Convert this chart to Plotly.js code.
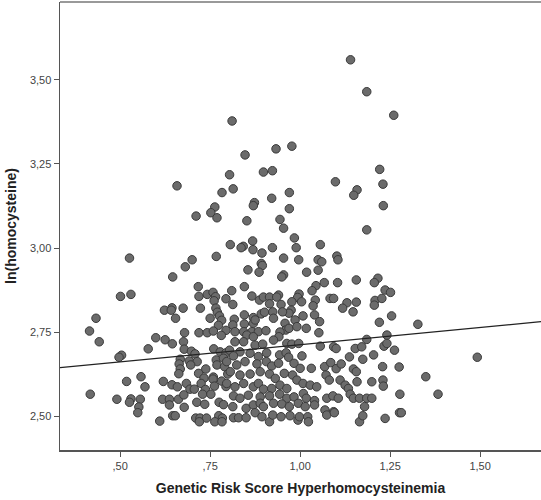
<!DOCTYPE html>
<html><head><meta charset="utf-8">
<script src="https://cdn.plot.ly/plotly-3.0.1.min.js"></script>
<style>html,body{margin:0;padding:0;background:#fff}#chart{width:541px;height:500px}</style>
</head><body><div id="chart"></div>
<script>
// Genetic risk score (x) and ln(homocysteine) (y)
const grs = [
0.933,0.977,0.847,0.804,0.898,0.923,0.658,0.783,0.814,0.970,0.873,0.870,0.921,0.970,0.763,0.752,0.769,0.711,0.852,0.944,
0.954,0.984,0.868,0.806,0.842,0.836,0.869,0.894,0.923,0.989,0.526,0.700,0.767,0.954,0.996,0.681,0.892,0.895,0.855,0.886,
0.954,0.949,0.646,
1.221,1.230,1.231,1.098,1.158,1.149,1.185,1.056,1.050,1.060,1.102,1.105,1.018,1.050,1.216,1.156,
1.140,1.185,1.260,0.811,
0.717,0.501,0.530,0.719,0.742,0.758,0.765,0.761,0.794,0.623,0.644,0.642,0.675,0.723,0.766,0.770,0.654,0.433,0.750,0.776,
0.782,0.773,0.415,0.679,0.719,0.742,0.759,0.794,0.781,0.442,0.599,0.625,0.645,0.676,0.678,0.578,0.698,0.708,0.760,0.778,
0.794,0.504,0.497,0.667,0.692,0.714,0.767,0.787,0.664,0.667,0.696,0.769,0.790,0.738,0.718,0.663,0.733,0.759,0.799,0.518,
0.558,0.569,0.620,0.644,0.659,0.684,0.694,0.706,0.725,0.737,0.758,0.762,0.782,0.794,0.729,0.752,0.417,0.491,0.530,0.526,
0.556,0.618,0.637,0.637,0.662,0.677,0.713,0.735,0.775,0.787,0.552,0.549,0.678,0.646,0.653,0.710,0.722,0.740,0.720,0.774,
0.784,0.763,0.783,0.610,
1.206,1.104,0.845,0.810,1.044,1.033,1.067,0.866,0.887,0.898,0.915,0.915,0.940,0.935,0.997,0.993,0.977,1.004,1.042,1.036,
1.083,1.093,1.130,1.118,1.147,1.156,1.208,1.227,1.236,1.206,0.813,0.947,0.975,0.969,0.951,0.845,0.870,0.892,0.901,0.924,
0.926,0.817,0.813,0.845,0.870,0.875,0.958,0.986,1.008,1.040,1.054,0.960,0.969,0.991,1.017,1.052,1.220,0.819,0.843,0.866,
0.884,0.905,0.944,0.941,0.926,0.852,0.870,0.819,0.843,0.875,0.896,0.963,0.977,0.996,1.056,1.093,1.100,1.153,1.171,1.185,
1.233,1.241,1.204,1.137,0.804,0.833,0.815,0.861,0.884,0.907,0.943,0.961,0.968,1.005,0.796,0.824,0.847,0.880,0.906,0.921,
0.940,0.983,1.000,1.031,1.068,1.085,1.100,1.114,1.148,1.156,1.174,1.229,0.806,0.833,0.861,0.889,0.915,0.931,0.956,0.979,
0.991,1.008,1.028,1.046,1.072,1.081,1.111,1.125,1.134,1.158,1.199,1.230,1.231,0.796,0.819,0.843,0.870,0.884,0.898,0.921,
0.944,0.963,0.815,0.833,0.856,0.889,0.915,0.943,0.963,0.983,1.009,1.017,1.040,1.074,1.091,1.106,1.139,1.148,1.165,1.185,
1.199,0.813,0.850,0.870,0.889,0.898,0.926,0.949,0.970,0.995,1.014,1.040,1.069,1.093,1.179,0.815,0.829,0.850,0.875,0.894,
0.915,0.924,0.947,0.972,0.994,0.998,1.021,1.023,1.074,1.095,1.165,1.174,1.236,
1.251,1.254,1.327,1.241,1.262,1.492,1.275,1.349,1.277,1.383,1.276,1.281
];
const lnHcy = [
3.295,3.303,3.277,3.218,3.226,3.230,3.185,3.165,3.176,3.165,3.135,3.126,3.148,3.117,3.122,3.105,3.090,3.095,3.081,3.085,
3.059,3.030,3.021,3.010,3.005,3.001,2.995,2.985,3.001,3.001,2.970,2.965,2.975,2.970,2.965,2.944,2.954,2.948,2.935,2.928,
2.920,2.914,2.914,
3.234,3.190,3.126,3.197,3.173,3.157,3.054,3.010,2.965,2.959,2.976,2.965,2.928,2.934,2.910,2.905,
3.560,3.465,3.395,3.378,
2.885,2.856,2.862,2.856,2.862,2.868,2.855,2.843,2.849,2.815,2.822,2.815,2.821,2.821,2.821,2.809,2.791,2.791,2.791,2.798,
2.785,2.770,2.753,2.748,2.748,2.748,2.753,2.755,2.740,2.721,2.733,2.727,2.715,2.721,2.699,2.700,2.693,2.685,2.700,2.691,
2.688,2.681,2.675,2.669,2.664,2.662,2.667,2.672,2.655,2.640,2.652,2.652,2.647,2.640,2.627,2.626,2.613,2.616,2.625,2.603,
2.617,2.587,2.603,2.593,2.587,2.597,2.580,2.580,2.597,2.579,2.610,2.589,2.604,2.588,2.565,2.565,2.565,2.550,2.551,2.541,
2.550,2.550,2.550,2.533,2.550,2.563,2.541,2.535,2.541,2.534,2.527,2.510,2.526,2.501,2.501,2.494,2.494,2.494,2.483,2.501,
2.494,2.483,2.483,2.485,
2.897,2.897,2.885,2.873,2.888,2.873,2.897,2.857,2.845,2.854,2.854,2.834,2.860,2.854,2.863,2.853,2.840,2.840,2.845,2.828,
2.850,2.850,2.837,2.821,2.810,2.839,2.844,2.850,2.875,2.830,2.832,2.832,2.815,2.806,2.810,2.801,2.793,2.804,2.809,2.810,
2.791,2.788,2.771,2.774,2.776,2.786,2.776,2.786,2.798,2.801,2.781,2.756,2.761,2.766,2.761,2.748,2.779,2.751,2.751,2.751,
2.751,2.754,2.750,2.736,2.726,2.741,2.736,2.721,2.721,2.711,2.714,2.716,2.714,2.716,2.708,2.706,2.701,2.701,2.706,2.728,
2.708,2.716,2.682,2.676,2.696,2.691,2.679,2.687,2.677,2.688,2.682,2.688,2.675,2.679,2.662,2.652,2.662,2.655,2.662,2.649,
2.657,2.657,2.642,2.642,2.647,2.659,2.641,2.655,2.640,2.632,2.669,2.647,2.632,2.622,2.625,2.632,2.625,2.612,2.627,2.622,
2.607,2.597,2.592,2.587,2.622,2.607,2.607,2.592,2.582,2.602,2.602,2.607,2.589,2.597,2.587,2.597,2.587,2.597,2.580,2.582,
2.592,2.582,2.560,2.553,2.562,2.557,2.560,2.565,2.553,2.557,2.567,2.553,2.546,2.553,2.560,2.553,2.565,2.553,2.553,2.553,
2.553,2.528,2.523,2.533,2.538,2.528,2.538,2.536,2.528,2.538,2.528,2.533,2.518,2.513,2.528,2.495,2.495,2.495,2.510,2.498,
2.483,2.503,2.498,2.501,2.488,2.498,2.498,2.483,2.503,2.510,2.483,2.501,2.493,
2.868,2.798,2.773,2.741,2.696,2.675,2.646,2.617,2.565,2.565,2.510,2.510
];
// Fit line ends
const fitX = [0.333, 1.669];
const fitY = [2.644, 2.781];
const xTickVals = [0.5, 0.75, 1.0, 1.25, 1.5];
const xTickText = [",50", ",75", "1,00", "1,25", "1,50"];
const yTickVals = [2.5, 2.75, 3.0, 3.25, 3.5];
const yTickText = ["2,50", "2,75", "3,00", "3,25", "3,50"];

const traces = [
  {x: grs, y: lnHcy, type: 'scatter', mode: 'markers', hoverinfo: 'none',
   marker: {size: 8.5, color: '#6b6b6b', line: {color: '#3a3a3a', width: 1}}},
  {x: fitX, y: fitY, type: 'scatter', mode: 'lines', hoverinfo: 'none',
   line: {color: '#222', width: 1.2}}
];
const font = {family: 'Liberation Sans, Arial, sans-serif', size: 11, color: '#444'};
const layout = {
  width: 541, height: 500, showlegend: false,
  paper_bgcolor: '#fff', plot_bgcolor: '#fff',
  margin: {l: 60, r: 0, t: 2, b: 50, pad: 0},
  font: font,
  xaxis: {range: [0.333, 1.669], tickvals: xTickVals, ticktext: xTickText,
    showgrid: false, zeroline: false, showline: true, linecolor: '#555', linewidth: 1.5,
    ticks: 'outside', ticklen: 5, tickcolor: '#555', tickfont: font,
    title: {text: 'Genetic Risk Score Hyperhomocysteinemia', standoff: 12,
      font: {family: 'Liberation Sans, Arial, sans-serif', size: 14, color: '#222', weight: 'bold'}}},
  yaxis: {range: [2.399, 3.732], tickvals: yTickVals, ticktext: yTickText,
    showgrid: false, zeroline: false, showline: true, linecolor: '#555', linewidth: 1.5,
    ticks: 'outside', ticklen: 5, tickcolor: '#555', tickfont: font,
    title: {text: 'ln(homocysteine)', standoff: 10,
      font: {family: 'Liberation Sans, Arial, sans-serif', size: 14, color: '#222', weight: 'bold'}}},
  shapes: [{type: 'line', xref: 'paper', yref: 'paper', x0: 0, x1: 1, y0: 1, y1: 1,
    line: {color: '#999', width: 2}}]
};
Plotly.newPlot('chart', traces, layout, {staticPlot: true, displayModeBar: false});
</script></body></html>
